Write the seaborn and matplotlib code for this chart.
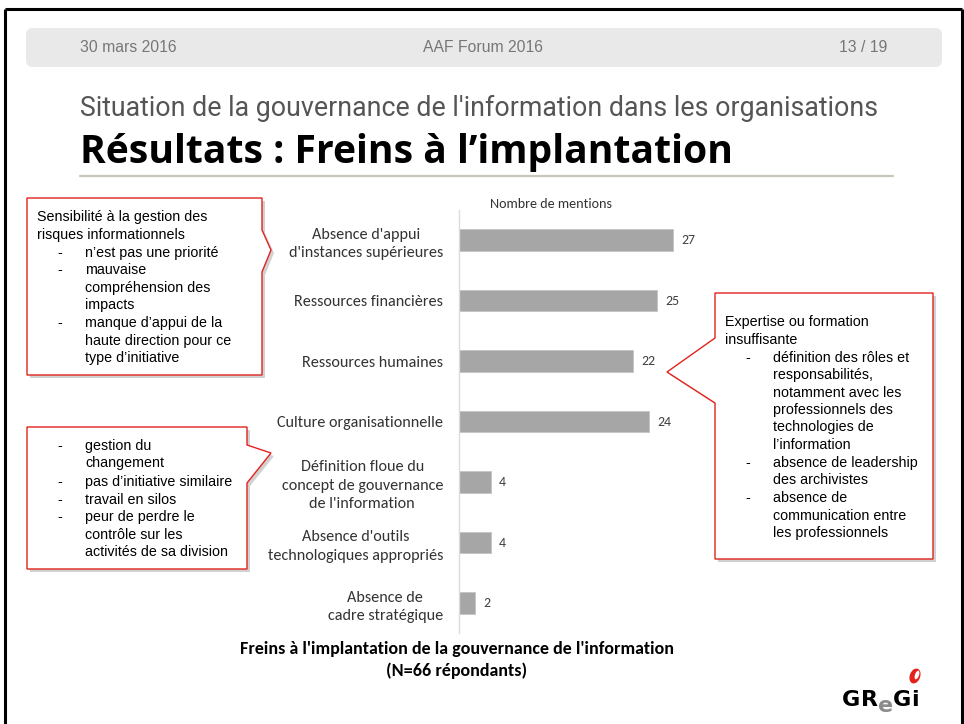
import numpy as np
import pandas as pd
import matplotlib
matplotlib.use("Agg")
import matplotlib.pyplot as plt
from matplotlib import font_manager
from matplotlib.patches import Polygon, FancyBboxPatch, Ellipse
import seaborn as sns

# ---------------- data ----------------
categories = [
    "Absence d'appui\nd'instances supérieures",
    "Ressources financières",
    "Ressources humaines",
    "Culture organisationnelle",
    "Définition floue du\nconcept de gouvernance\nde l'information",
    "Absence d'outils\ntechnologiques appropriés",
    "Absence de\ncadre stratégique",
]
mentions = [27, 25, 22, 24, 4, 4, 2]

header_left = "30 mars 2016"
header_center = "AAF Forum 2016"
header_right = "13 / 19"
subtitle = "Situation de la gouvernance de l'information dans les organisations"
title = "Résultats : Freins à l’implantation"
axis_title = "Nombre de mentions"
chart_caption = ["Freins à l'implantation de la gouvernance de l'information",
                 "(N=66 répondants)"]

box1_lines = [("", "Sensibilité à la gestion des"), ("", "risques informationnels"),
              ("-", "n’est pas une priorité"), ("-", "mauvaise"),
              (None, "compréhension des"), (None, "impacts"),
              ("-", "manque d’appui de la"), (None, "haute direction pour ce"),
              (None, "type d’initiative")]
box2_lines = [("-", "gestion du"), (None, "changement"),
              ("-", "pas d’initiative similaire"), ("-", "travail en silos"),
              ("-", "peur de perdre le"), (None, "contrôle sur les"),
              (None, "activités de sa division")]
box3_lines = [("", "Expertise ou formation"), ("", "insuffisante"),
              ("-", "définition des rôles et"), (None, "responsabilités,"),
              (None, "notamment avec les"), (None, "professionnels des"),
              (None, "technologies de"), (None, "l’information"),
              ("-", "absence de leadership"), (None, "des archivistes"),
              ("-", "absence de"), (None, "communication entre"),
              (None, "les professionnels")]
logo_letters = ["G", "R", "e", "G", "i"]

# ---------------- fonts ----------------
avail = {f.name for f in font_manager.fontManager.ttflist}
def pick(*names):
    for n in names:
        if n in avail:
            return n
    return "DejaVu Sans"

F_ARIAL = pick("Liberation Sans", "Arial", "DejaVu Sans")
F_CAL = pick("Carlito", "Calibri", "Lato", "Open Sans")
F_SUB = pick("Roboto", "Open Sans", "Lato")
F_TITLE = pick("Open Sans", "Roboto", "Lato")

sns.set_theme(style="white")
plt.rcParams["font.family"] = [F_CAL, "DejaVu Sans"]

W, H = 964, 724
fig = plt.figure(figsize=(W / 100, H / 100), dpi=100)
fig.patch.set_facecolor("white")
renderer = fig.canvas.get_renderer()

def fit_width(t, target):
    w = t.get_window_extent(renderer).width
    if w > 0:
        t.set_fontsize(t.get_fontsize() * target / w)

# overlay in pixel coordinates
ov = fig.add_axes([0, 0, 1, 1], zorder=0)
ov.set_xlim(0, W)
ov.set_ylim(H, 0)
ov.axis("off")
ov.patch.set_alpha(0)

# slide frame
ov.plot([5, 5], [9, H], color="black", lw=2.2, solid_capstyle="butt")
ov.plot([5, 962], [9, 9], color="black", lw=2.2, solid_capstyle="butt")
ov.plot([962, 962], [9, H], color="black", lw=2.2, solid_capstyle="butt")

# header bar
ov.add_patch(FancyBboxPatch((26, 28), 916, 39, boxstyle="round,pad=0,rounding_size=7",
                            facecolor="#e9e9e9", edgecolor="none"))
for x, s, ha in [(80, header_left, "left"), (483, header_center, "center"),
                 (887, header_right, "right")]:
    ov.text(x, 47.5, s, fontsize=11.3, color="#777777", family=F_ARIAL,
            ha=ha, va="center")

# titles
t_sub = ov.text(80, 116, subtitle, fontsize=18, color="#555555", family=F_SUB,
                fontweight="normal", ha="left", va="baseline")
fit_width(t_sub, 795)
t_title = ov.text(80, 163, title, fontsize=26, color="black", family=F_TITLE,
                  fontweight="bold", ha="left", va="baseline")
fit_width(t_title, 655)
ov.plot([80, 893], [176, 176], color="#c9c6bc", lw=1.6)

# ---------------- chart ----------------
df = pd.DataFrame({"cat": categories, "n": mentions})
ax_left, ax_right = 459, 459 + 7.93 * 30
ax_top, ax_bot = 209.75, 633.25
ax = fig.add_axes([ax_left / W, 1 - ax_bot / H, (ax_right - ax_left) / W,
                   (ax_bot - ax_top) / H], zorder=2)
ax.patch.set_alpha(0)
sns.barplot(data=df, x="n", y="cat", orient="h", color="#a6a6a6", width=0.35,
            saturation=1, edgecolor="#c4c4c4", linewidth=0.6, ax=ax)
ax.set_xlim(0, 30)
ax.set_ylim(6.5, -0.5)
ax.set_xlabel("")
ax.set_ylabel("")
ax.set_xticks([])
for s in ["top", "right", "bottom"]:
    ax.spines[s].set_visible(False)
ax.spines["left"].set_color("#dcdcdc")
ax.spines["left"].set_linewidth(1.0)
ax.tick_params(axis="y", length=0, pad=11.5)
ax.set_yticks(range(len(categories)))
ax.set_yticklabels(categories, fontsize=11.6, color="#333333", family=F_CAL,
                   linespacing=1.42)
for lab in ax.get_yticklabels():
    lab.set_multialignment("center")
ax.bar_label(ax.containers[0], padding=6, fontsize=10, color="#404040",
             family=F_CAL)

ov.text(551, 204, axis_title, fontsize=10.2, color="#333333", family=F_CAL,
        ha="center", va="center")
ov.text(457, 649, chart_caption[0], fontsize=13, color="black", family=F_CAL,
        fontweight="bold", ha="center", va="center")
ov.text(457, 671, chart_caption[1], fontsize=13, color="black", family=F_CAL,
        fontweight="bold", ha="center", va="center")

# ---------------- callouts ----------------
top = fig.add_axes([0, 0, 1, 1], zorder=3)
top.set_xlim(0, W)
top.set_ylim(H, 0)
top.axis("off")
top.patch.set_alpha(0)

RED = "#e3221c"
def callout(pts):
    pts = np.array(pts, float)
    top.add_patch(Polygon(pts + np.array([3, 3]), closed=True, facecolor="#9a9a9a",
                          edgecolor="none", alpha=0.45))
    top.add_patch(Polygon(pts, closed=True, facecolor="white", edgecolor=RED,
                          lw=1.0, joinstyle="miter"))

def write(lines, ys, x0, xd, xt):
    for (dash, txt), y in zip(lines, ys):
        if dash == "":
            top.text(x0, y, txt, fontsize=10.3, family=F_ARIAL, color="black",
                     ha="left", va="center")
        else:
            if dash:
                top.text(xd, y, dash, fontsize=10.3, family=F_ARIAL, color="black",
                         ha="left", va="center")
            top.text(xt, y, txt, fontsize=10.3, family=F_ARIAL, color="black",
                     ha="left", va="center")

callout([(27, 198), (262, 198), (262, 230), (271, 250), (262, 272),
         (262, 375), (27, 375)])
write(box1_lines, [217, 235, 253, 270, 288, 305, 323, 341, 358], 37, 57, 85)

callout([(27, 427), (247, 427), (247, 445), (271, 453), (247, 483),
         (247, 569), (27, 569)])
write(box2_lines, [446, 463, 482, 500, 517, 535, 552], 37, 57, 85)

callout([(715, 293), (933, 293), (933, 559), (715, 559), (715, 403),
         (667, 372), (715, 338)])
write(box3_lines, [322, 340, 358, 375, 393, 410, 427, 445, 463, 480, 498, 516, 533],
      725, 745, 773)

# ---------------- logo ----------------
logo_x = [842, 861, 878, 893, 911]
logo_y = [706, 706, 712, 706, 706]
logo_c = ["black", "black", "#8c8c8c", "black", "black"]
for ch, x, y, c in zip(logo_letters, logo_x, logo_y, logo_c):
    top.text(x, y, ch, fontsize=16, fontweight="bold", family="DejaVu Sans",
             color=c, ha="left", va="baseline")
top.add_patch(Ellipse((915, 676), 9, 14, angle=20, facecolor=RED,
                      edgecolor=RED, lw=1))
top.add_patch(Ellipse((917, 675), 4, 9, angle=20, facecolor="white",
                      edgecolor="none"))

fig.savefig("out.png", dpi=100, facecolor="white")
